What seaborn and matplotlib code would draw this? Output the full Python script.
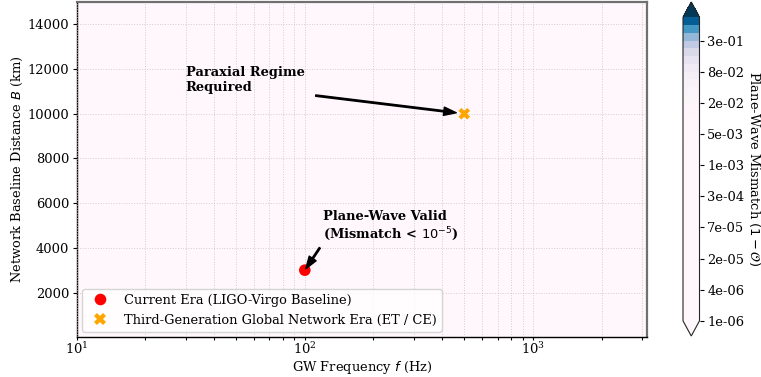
import numpy as np
import pandas as pd
import matplotlib
matplotlib.use("Agg")
import matplotlib.pyplot as plt
import seaborn as sns

# --- Observing eras (frequency in Hz, baseline in km) ---
era_labels = ["Current Era (LIGO-Virgo Baseline)",
              "Third-Generation Global Network Era (ET / CE)"]
era_freq_hz = [100, 500]
era_baseline_km = [3000, 10000]
era_colors = ["red", "orange"]
era_markers = ["o", "X"]

# --- Mismatch model: wavefront curvature across the network ---
C_LIGHT = 2.998e8              # m/s
SOURCE_DIST_M = 40 * 3.086e22  # 40 Mpc
freq_grid = np.logspace(1, 3.5, 300)            # Hz
baseline_grid_km = np.linspace(10, 15000, 300)  # km
F, B = np.meshgrid(freq_grid, baseline_grid_km)
phase_err = np.pi * F * (B * 1e3) ** 2 / (C_LIGHT * SOURCE_DIST_M)
mismatch = 0.5 * phase_err ** 2

levels = np.logspace(-6, 0, 40)
cbar_ticks = levels[::4]

FS = 9.4
sns.set_style("white")
plt.rcParams.update({
    "font.family": ["DejaVu Serif"],
    "font.size": FS,
    "text.color": "black",
    "axes.labelcolor": "black",
    "xtick.color": "black",
    "ytick.color": "black",
})

fig = plt.figure(figsize=(7.61, 3.77), dpi=100)
ax = fig.add_axes([76.7 / 761, 1 - 337 / 377, (647 - 76.7) / 761, (337 - 2) / 377])
cax = fig.add_axes([683 / 761, 1 - 336 / 377, 16.5 / 761, (336 - 2) / 377])

cf = ax.contourf(F, B, mismatch, levels=levels, cmap="PuBu", extend="both")

df = pd.DataFrame({"f": era_freq_hz, "B": era_baseline_km, "era": era_labels})
sns.scatterplot(data=df, x="f", y="B", hue="era", style="era",
                palette=dict(zip(era_labels, era_colors)),
                markers=dict(zip(era_labels, era_markers)),
                s=70, linewidth=0, ax=ax, zorder=5)

ax.set_xscale("log")
ax.set_xlim(10, 10 ** 3.5)
ax.set_ylim(10, 15000)
ax.set_yticks([2000, 4000, 6000, 8000, 10000, 12000, 14000])
ax.grid(True, which="both", linestyle=":", linewidth=0.7, color="#c4c4c4", alpha=0.8)
ax.set_axisbelow(False)
ax.tick_params(which="both", direction="out", bottom=True, left=True,
               labelsize=FS, width=0.8)
ax.tick_params(axis="x", which="major", length=2.5, pad=0.5)
ax.tick_params(axis="y", which="major", length=3, pad=2.5)
ax.tick_params(which="minor", length=2)
for side in ("left", "bottom"):
    ax.spines[side].set_color("black")
    ax.spines[side].set_linewidth(1.0)
for side in ("top", "right"):
    ax.spines[side].set_color("#707070")
    ax.spines[side].set_linewidth(1.6)

ax.set_xlabel("GW Frequency $f$ (Hz)", fontsize=FS, labelpad=1.5)
ax.set_ylabel("Network Baseline Distance $B$ (km)", fontsize=FS, labelpad=2)

arrow = dict(facecolor="black", edgecolor="black", shrink=0.05,
             width=1.0, headwidth=6, headlength=9)
ax.annotate("Paraxial Regime\nRequired", xy=(era_freq_hz[1], era_baseline_km[1]),
            xytext=(30, 11500), fontsize=FS, fontweight="bold",
            va="center", ha="left", arrowprops=arrow, zorder=6)
ax.annotate("Plane-Wave Valid\n(Mismatch < $10^{-5}$)",
            xy=(era_freq_hz[0], era_baseline_km[0]),
            xytext=(120, 4950), fontsize=FS, fontweight="bold",
            va="center", ha="left", arrowprops=arrow, zorder=6)

sns.move_legend(ax, "lower left", title=None, frameon=True, fontsize=FS,
                borderaxespad=0.4)

cb = fig.colorbar(cf, cax=cax, ticks=cbar_ticks, format="%.0e")
cb.ax.tick_params(labelsize=FS, length=3, pad=2.5, color="black")
cb.set_label(r"Plane-Wave Mismatch $(1-\mathcal{O})$", rotation=270,
             labelpad=13, fontsize=FS)

fig.savefig("out.png", dpi=100)
